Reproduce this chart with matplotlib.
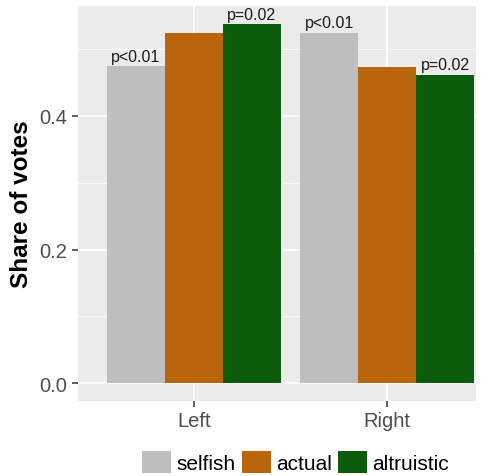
import matplotlib
matplotlib.use("Agg")
import matplotlib.pyplot as plt
from matplotlib.patches import Patch
import numpy as np

groups = ["Left", "Right"]
series = ["selfish", "actual", "altruistic"]
values = {
    "selfish": [0.475, 0.525],
    "actual": [0.525, 0.473],
    "altruistic": [0.538, 0.462],
}
labels = {
    "selfish": ["p<0.01", "p<0.01"],
    "actual": ["", ""],
    "altruistic": ["p=0.02", "p=0.02"],
}
colors = {"selfish": "#BEBEBE", "actual": "#B9650C", "altruistic": "#0B5D0B"}

plt.rcParams["font.family"] = ["Liberation Sans", "DejaVu Sans"]

fig = plt.figure(figsize=(4.92, 4.77), dpi=100)
ax = fig.add_axes([78 / 492, 75 / 477, 398 / 492, 395 / 477])
ax.set_facecolor("#EBEBEB")

x = np.arange(1, len(groups) + 1)
width = 0.3
for i, s in enumerate(series):
    pos = x + (i - 1) * width
    ax.bar(pos, values[s], width=width, color=colors[s], zorder=3, linewidth=0)
    for px, v, lab in zip(pos, values[s], labels[s]):
        if lab:
            ax.annotate(lab, (px, v), xytext=(0, 1.5), textcoords="offset points",
                        ha="center", va="bottom", fontsize=11.5, color="#1A1A1A", zorder=4)

ax.set_xlim(0.4, 2.46)
ax.set_ylim(-0.0269, 0.5647)
ax.set_xticks(x)
ax.set_xticklabels(groups)
ax.set_yticks([0.0, 0.2, 0.4])
ax.set_yticklabels(["0.0", "0.2", "0.4"])
ax.set_yticks([0.1, 0.3, 0.5], minor=True)
ax.tick_params(axis="both", which="major", labelsize=14.5, labelcolor="#4D4D4D",
               color="#333333", length=4, width=1.1)
ax.tick_params(axis="y", which="minor", length=0)
ax.grid(True, which="major", color="white", linewidth=1.2, zorder=0)
ax.grid(True, which="minor", axis="y", color="white", linewidth=0.6, zorder=0)
ax.set_axisbelow(True)
for sp in ax.spines.values():
    sp.set_visible(False)

ax.set_ylabel("Share of votes", fontsize=17.5, fontweight="bold", labelpad=5)

handles = [Patch(facecolor=colors[s], edgecolor="none", label=s) for s in series]
fig.legend(handles=handles, loc="center", bbox_to_anchor=(295.5 / 492, 14 / 477),
           ncol=3, frameon=False, fontsize=15, handlelength=1.4, handleheight=1.3,
           handletextpad=0.25, columnspacing=0.3, borderpad=0, borderaxespad=0)

fig.savefig("out.png", dpi=100)
